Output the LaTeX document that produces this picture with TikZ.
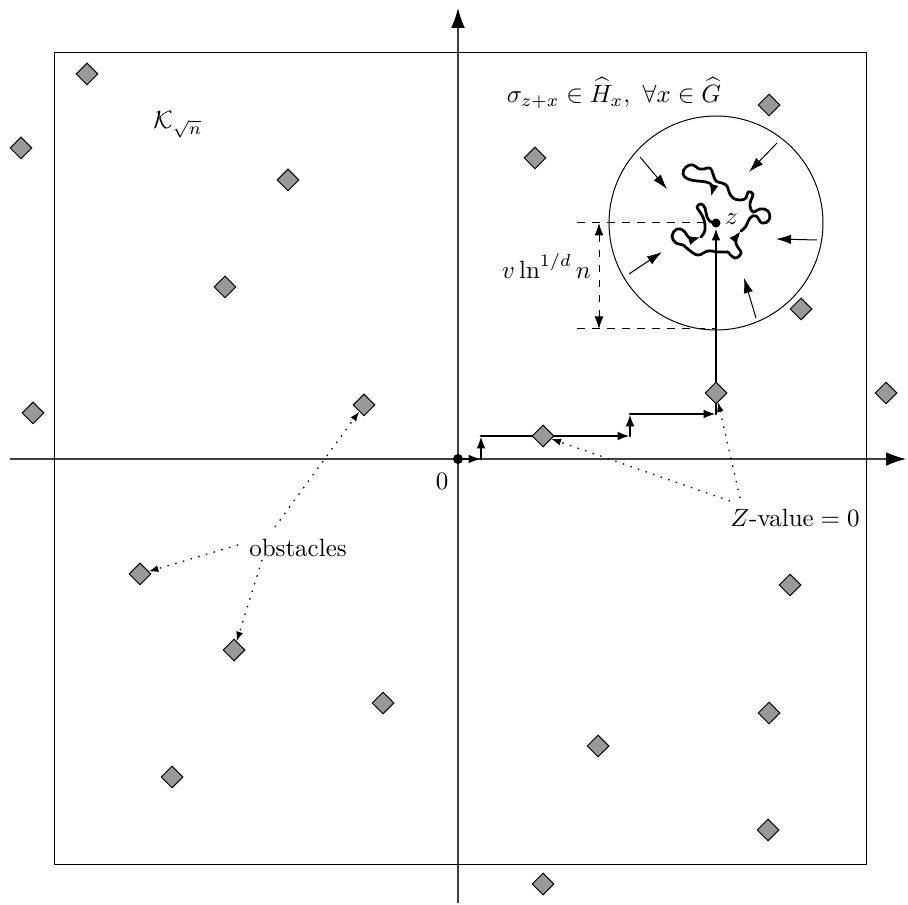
\documentclass[tikz,border=0pt]{standalone}
\usetikzlibrary{arrows.meta,shapes.geometric}
\pgfdeclarelayer{background}
\pgfsetlayers{background,main}
\begin{document}
\begin{tikzpicture}[x=0.4pt,y=-0.4pt,
  obst/.style={diamond,draw=black,line width=0.4pt,fill=black!40,inner sep=0pt,minimum width=8.8pt,minimum height=8.8pt},
  axisline/.style={draw=black!75,line width=0.5pt,-{Latex[length=8pt,width=5.5pt,color=black]}},
  walk/.style={line width=1.1pt,line cap=round,line join=round},
  wtip/.style={-{Latex[length=5pt,width=3.6pt]}},
  note/.style={line width=0.5pt,dash pattern=on 0.6pt off 2.6pt,-{Latex[length=3.8pt,width=2.8pt]}},
  push/.style={line width=0.4pt,-{Latex[length=6pt,width=3.8pt]}},
  meas/.style={dashed,line width=0.4pt},
  dotnode/.style={circle,fill=black,inner sep=0pt,minimum size=#1},
  lbl/.style={inner sep=1pt}]
\useasboundingbox (0,0) rectangle (908,905);

% obstacles
\node[obst] (d1) at (87,74) {};
\node[obst] (d2) at (21,148) {};
\node[obst] (d3) at (288,180) {};
\node[obst] (d4) at (535,158) {};
\node[obst] (d5) at (769,105) {};
\node[obst] (d6) at (225,287) {};
\node[obst] (d7) at (33,413) {};
\node[obst] (d8) at (364,405) {};
\node[obst] (d9) at (801,309) {};
\node[obst] (d10) at (886,393) {};
\node[obst] (d11) at (716,393) {};
\node[obst] (d12) at (543,436) {};
\node[obst] (d13) at (140,574) {};
\node[obst] (d14) at (790,585) {};
\node[obst] (d15) at (234,650) {};
\node[obst] (d16) at (383,703) {};
\node[obst] (d17) at (769,713) {};
\node[obst] (d18) at (598,746) {};
\node[obst] (d19) at (172,777) {};
\node[obst] (d20) at (768,830) {};
\node[obst] (d21) at (543,884) {};

% origin and z
\node[dotnode=4pt] (O) at (458,459) {};
\node[dotnode=3.6pt] (z) at (716,223) {};

% coordinates
\coordinate (xl) at (10,459);
\coordinate (xr) at (906,459);
\coordinate (yb) at (458,903);
\coordinate (yt) at (458,8);
\coordinate (p1) at (481,459);
\coordinate (p2) at (481,436);
\coordinate (p3) at (630,436);
\coordinate (p4) at (630,414);
\coordinate (p5) at (716,414);

\begin{pgfonlayer}{background}
  % axes
  \draw[axisline] (xl) -- (xr);
  \draw[axisline] (yb) -- (yt);
  % box K
  \draw[line width=0.4pt] (54,53) rectangle (866,864);
  % ball
  \draw[line width=0.4pt] (z) circle[radius=107];
  % measure
  \coordinate (m1) at (577,223);
  \coordinate (m2) at (577,329);
  \coordinate (m3) at (716,329);
  \coordinate (ma) at (599,223);
  \coordinate (mb) at (599,329);
  \draw[meas] (m1) -- (z.center);
  \draw[meas] (m2) -- (m3);
  \draw[meas,{Latex[length=5pt,width=3.6pt]}-{Latex[length=5pt,width=3.6pt]}] (ma) -- (mb);
  % monotone path
  \draw[walk,wtip] (O) -- (p1);
  \draw[walk,wtip] (p1) -- (p2);
  \draw[walk,wtip] (p2) -- (p3);
  \draw[walk,wtip] (p3) -- (p4);
  \draw[walk,wtip] (p4) -- (p5);
  \draw[walk] (p5) -- (d11);
  \draw[walk,wtip] (d11) -- (z);
  % random walk
  \draw[walk,wtip] plot[smooth,tension=0.7] coordinates {(728,252) (735,258) (741,253) (737,246) (736,239) (741,231)};
  \draw[walk,wtip] plot[smooth,tension=0.75] coordinates {(741,231) (746,226) (750,218) (756,216) (762,223) (769,220) (768,211) (760,209) (753,212) (750,206) (751,200) (753,194) (748,192) (746,198) (740,200) (733,198) (729,192) (727,186) (722,183) (716,181) (713,174) (710,168) (704,169) (699,169) (693,165) (686,167) (683,174) (688,179) (697,181) (706,182) (712,186) (711,197)};
  \draw[walk,wtip] plot[smooth,tension=0.75] coordinates {(728,252) (718,252) (708,251) (698,255) (689,250) (683,245) (676,243) (672,236) (677,229) (684,231) (690,238) (701,237)};
  \draw[walk] plot[smooth,tension=0.75] coordinates {(701,237) (705,230) (704,220) (700,212) (697,207) (701,204) (705,208) (707,217) (711,222) (714,222)};
  % pushing arrows
  \coordinate (a1s) at (640,157); \coordinate (a1e) at (667,189);
  \coordinate (a2s) at (777,143); \coordinate (a2e) at (749,172);
  \coordinate (a3s) at (817,240); \coordinate (a3e) at (776,239);
  \coordinate (a4s) at (756,318); \coordinate (a4e) at (744,278);
  \coordinate (a5s) at (629,274); \coordinate (a5e) at (662,252);
  \draw[push] (a1s) -- (a1e);
  \draw[push] (a2s) -- (a2e);
  \draw[push] (a3s) -- (a3e);
  \draw[push] (a4s) -- (a4e);
  \draw[push] (a5s) -- (a5e);
  % annotation arrows
  \coordinate (s1) at (275,527);
  \coordinate (s2) at (238,545);
  \coordinate (s3) at (262,560);
  \draw[note] (s1) -- (d8);
  \draw[note] (s2) -- (d13);
  \draw[note] (s3) -- (d15);
  \coordinate (t1) at (730,501);
  \coordinate (t2) at (740,498);
  \draw[note] (t1) -- (d12);
  \draw[note] (t2) -- (d11);
\end{pgfonlayer}

% labels
\node[lbl] (zero) at (442,481) {$0$};
\node[lbl,anchor=west] (zl) at (722,219) {$z$};
\node[lbl] (Kl) at (178,125) {$\mathcal{K}_{\sqrt{n}}$};
\node[lbl] (sig) at (614,93) {$\sigma_{z+x}\in\widehat{H}_x,\ \forall x\in\widehat{G}$};
\node[lbl,anchor=east] (vl) at (594,266) {$v\ln^{1/d}n$};
\node[lbl] (obl) at (298,548) {obstacles};
\node[lbl] (zv) at (795,518) {$Z$-value${}=0$};
\end{tikzpicture}
\end{document}
